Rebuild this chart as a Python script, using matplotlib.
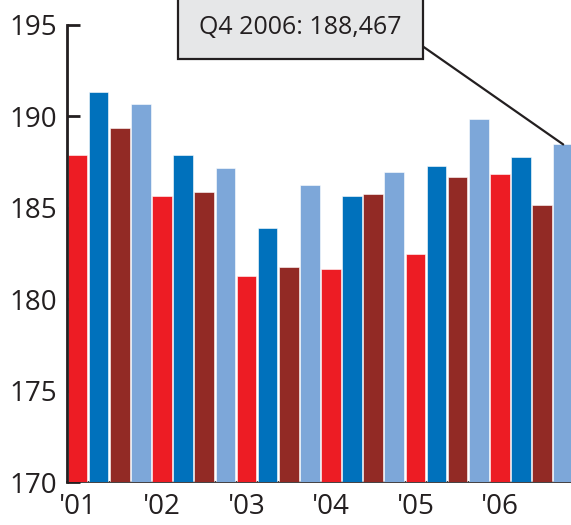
import matplotlib
matplotlib.use("Agg")
import matplotlib.pyplot as plt
from matplotlib.patches import Rectangle, ConnectionPatch

plt.rcParams['font.family'] = ['Open Sans', 'DejaVu Sans']

# Quarterly values, 2001 Q1 .. 2006 Q4 (thousands)
quarters = ["Q1", "Q2", "Q3", "Q4"]
years = ["'01", "'02", "'03", "'04", "'05", "'06"]
values = [
    187.87, 191.35, 189.37, 190.66,   # 2001
    185.66, 187.87, 185.86, 187.16,   # 2002
    181.29, 183.88, 181.78, 186.27,   # 2003
    181.67, 185.66, 185.77, 186.96,   # 2004
    182.47, 187.27, 186.67, 189.86,   # 2005
    186.87, 187.76, 185.17, 188.467,  # 2006
]
quarter_colors = ["#ed1c24", "#0071bc", "#922a25", "#7da7d9"]
y_ticks = [170, 175, 180, 185, 190, 195]
callout_text = "Q4 2006: 188,467"

ink = "#231f20"

fig = plt.figure(figsize=(5.71, 5.25), dpi=100)
ax = fig.add_axes([0.1173, 0.0819, 0.8827, 0.8705])

xs = list(range(len(values)))
colors = [quarter_colors[i % 4] for i in xs]
ax.bar(xs, [v - 170 for v in values], bottom=170, width=0.93, color=colors,
       edgecolor="white", linewidth=0.4, zorder=3)

ax.set_xlim(-0.5, 23.37)
ax.set_ylim(170, 195)
ax.set_yticks(y_ticks)
ax.set_yticklabels([str(t) for t in y_ticks])
ax.set_xticks([4 * i for i in range(len(years))])
ax.set_xticklabels(years)

for s in ["top", "right"]:
    ax.spines[s].set_visible(False)
ax.spines["left"].set_linewidth(2.0)
ax.spines["left"].set_color(ink)
ax.spines["left"].set_zorder(4)
ax.spines["bottom"].set_linewidth(1.2)
ax.spines["bottom"].set_color(ink)
ax.spines["bottom"].set_zorder(1)

ax.tick_params(axis="y", direction="in", length=9.4, width=2.0, color=ink,
               labelsize=20, labelcolor=ink, pad=7)
ax.tick_params(axis="x", length=0, labelsize=20, labelcolor=ink, pad=8)

# Callout box for the latest quarter
box = Rectangle((0.3115, 0.8882), 0.4298, 0.15, transform=fig.transFigure,
                facecolor="#e6e7e8", edgecolor=ink, linewidth=1.6,
                clip_on=False, zorder=5)
fig.patches.append(box)
fig.text(0.5265, 0.948, callout_text, ha="center", va="center",
         fontsize=18, color=ink, zorder=6)

con = ConnectionPatch(xyA=(0.7413, 0.911), coordsA=fig.transFigure,
                      xyB=(xs[-1], values[-1]), coordsB=ax.transData,
                      color=ink, linewidth=1.6, zorder=6)
fig.add_artist(con)

fig.savefig("out.png", dpi=100)
